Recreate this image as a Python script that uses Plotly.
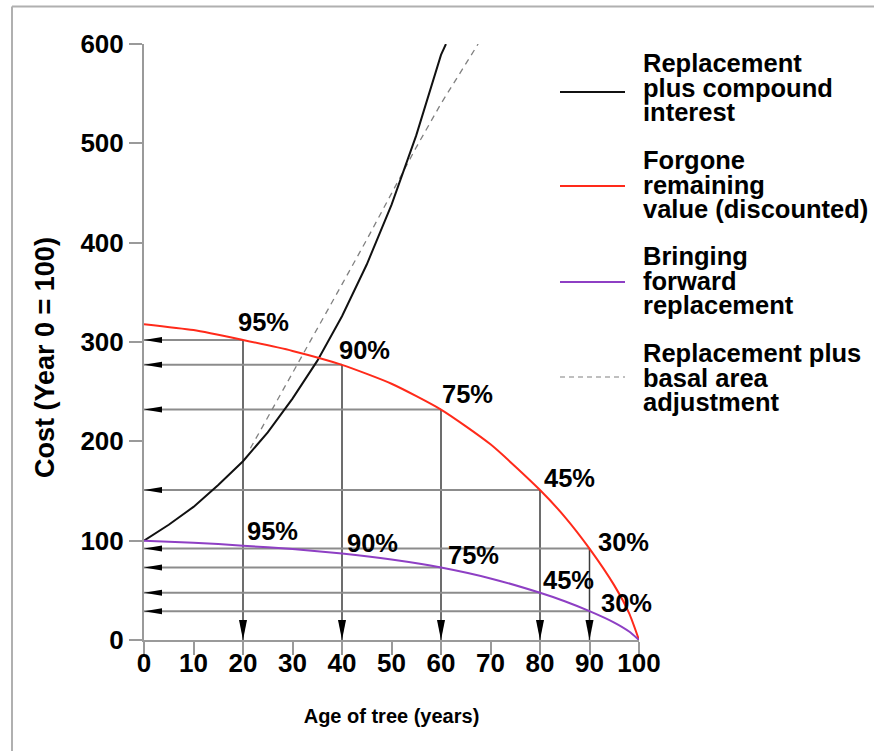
import plotly.graph_objects as go

# ---------------- data ----------------
age_black = [0, 5, 10, 15, 20, 25, 30, 35, 40, 45, 50, 55, 60, 61]
cost_black = [100, 116, 134, 156, 180, 209, 243, 281, 326, 378, 438, 508, 589, 600]

age_curve = [0, 10, 20, 30, 40, 50, 60, 70, 80, 85, 90, 95, 98, 100]
cost_red = [318, 312, 302, 291, 277, 258, 232, 197, 151, 124, 92, 55, 27, 0]
cost_purple = [100, 98, 95, 91.5, 87, 81, 73, 62, 47.5, 39, 29, 17.5, 8.5, 0]

age_dash = [21.5, 25, 30, 35, 40, 45, 50, 55, 60, 65, 67.5]
cost_dash = [193, 224, 268, 313, 358, 403, 449, 496, 540, 580, 600]

marked_age = [20, 40, 60, 80, 90]
red_marked = [302, 277, 232, 151, 92]
red_pct = ["95%", "90%", "75%", "45%", "30%"]
purple_marked = [95, 87, 73, 47.5, 29]
purple_pct = ["95%", "90%", "75%", "45%", "30%"]
purple_guides = [False, False, True, True, True]

x_ticks = [0, 10, 20, 30, 40, 50, 60, 70, 80, 90, 100]
y_ticks = [0, 100, 200, 300, 400, 500, 600]

x_title = "Age of tree (years)"
y_title = "Cost (Year 0 = 100)"
legend_names = [
    ["Replacement", "plus compound", "interest"],
    ["Forgone", "remaining", "value (discounted)"],
    ["Bringing", "forward", "replacement"],
    ["Replacement plus", "basal area", "adjustment"],
]

# ---------------- style ----------------
FONT = "Liberation Sans, Arial, Helvetica, sans-serif"
BLACK = "#111111"
RED = "#ff2a1a"
PURPLE = "#8e3fc4"
DASH = "#808080"
GUIDE_H = "#8c8c8c"
GUIDE_V = "#3c3c3c"
AXIS = "#9a9a9a"
TXT = 25.5
WEIGHT = "bold"

red_dx = [20, 22, 26, 29, 34]
red_dy = [18, 15, 16, 12, 7]
pur_dx = [29, 30, 32, 28, 37]
pur_dy = [15, 11, 12, 13, 8]

W, H = 874, 751
L, R, T, B = 144, 874 - 639, 44, 751 - 640
PW, PH = W - L - R, H - T - B


def px_x(p):
    return (p - L) / PW


def px_y(p):
    return (H - B - p) / PH


def tfont(size=TXT):
    return dict(family=FONT, size=size, color="black", weight=WEIGHT)


fig = go.Figure()

fig.add_trace(go.Scatter(x=age_dash, y=cost_dash, mode="lines", name="Replacement plus basal area adjustment",
                         line=dict(color=DASH, width=1.3, dash="6px,5px"), cliponaxis=False, showlegend=False))
fig.add_trace(go.Scatter(x=age_black, y=cost_black, mode="lines", name="Replacement plus compound interest",
                         line=dict(color=BLACK, width=2), cliponaxis=False, showlegend=False))
fig.add_trace(go.Scatter(x=age_curve, y=cost_red, mode="lines", name="Forgone remaining value (discounted)",
                         line=dict(color=RED, width=2, shape="spline", smoothing=0.6), cliponaxis=False, showlegend=False))
fig.add_trace(go.Scatter(x=age_curve, y=cost_purple, mode="lines", name="Bringing forward replacement",
                         line=dict(color=PURPLE, width=2, shape="spline", smoothing=0.6), cliponaxis=False, showlegend=False))

shapes = []
ux = 100 / PW  # data units per px in x
uy = 600 / PH  # data units per px in y


def hguide(yv, xe):
    shapes.append(dict(type="line", xref="x", yref="y", x0=0, x1=xe, y0=yv, y1=yv,
                       line=dict(color=GUIDE_H, width=2), layer="below"))
    shapes.append(dict(type="path", xref="x", yref="y",
                       path=f"M 0 {yv} L {18*ux} {yv+3*uy} L {18*ux} {yv-3*uy} Z",
                       fillcolor="black", line=dict(width=0)))


for a, rv in zip(marked_age, red_marked):
    hguide(rv, a)
    shapes.append(dict(type="line", xref="x", yref="y", x0=a, x1=a, y0=rv, y1=0,
                       line=dict(color=GUIDE_V, width=1.5), layer="below"))
    shapes.append(dict(type="path", xref="x", yref="y",
                       path=f"M {a} 0 L {a-4*ux} {20*uy} L {a+4*ux} {20*uy} Z",
                       fillcolor="black", line=dict(width=0)))

for a, pv, g in zip(marked_age, purple_marked, purple_guides):
    if g:
        hguide(pv, a)

# legend samples
leg_colors = [BLACK, RED, PURPLE, DASH]
leg_dash = ["solid", "solid", "solid", "5px,4px"]
leg_sample_y = [92, 186, 282, 377]
leg_text_y0 = [63, 160, 256, 353]
for c, d, sy in zip(leg_colors, leg_dash, leg_sample_y):
    shapes.append(dict(type="line", xref="paper", yref="paper", x0=px_x(560), x1=px_x(625),
                       y0=px_y(sy), y1=px_y(sy), line=dict(color=c, width=2 if d == "solid" else 1.2, dash=d)))

# frame
shapes.append(dict(type="line", xref="paper", yref="paper", x0=px_x(12), x1=px_x(12), y0=px_y(6.5), y1=px_y(760),
                   line=dict(color="#b0b0b0", width=2)))
shapes.append(dict(type="line", xref="paper", yref="paper", x0=px_x(12), x1=px_x(880), y0=px_y(6.5), y1=px_y(6.5),
                   line=dict(color="#b0b0b0", width=2)))

annotations = []
for a, rv, t, dx, dy in zip(marked_age, red_marked, red_pct, red_dx, red_dy):
    annotations.append(dict(x=a, y=rv, xref="x", yref="y", text=t, showarrow=False, xshift=dx, yshift=dy,
                            font=tfont(), xanchor="center", yanchor="middle"))
for a, pv, t, dx, dy in zip(marked_age, purple_marked, purple_pct, pur_dx, pur_dy):
    annotations.append(dict(x=a, y=pv, xref="x", yref="y", text=t, showarrow=False, xshift=dx, yshift=dy,
                            font=tfont(), xanchor="center", yanchor="middle"))

for lines, y0 in zip(legend_names, leg_text_y0):
    for i, ln in enumerate(lines):
        annotations.append(dict(x=px_x(641), y=px_y(y0 + 24.5 * i), xref="paper", yref="paper", text=ln,
                                showarrow=False, xanchor="left", yanchor="middle", font=tfont()))

# y-axis title (positioned as in the reference, slightly below plot centre)
annotations.append(dict(x=px_x(45), y=px_y(358), xref="paper", yref="paper", text=y_title, textangle=-90,
                        showarrow=False, xanchor="center", yanchor="middle", font=tfont(27)))

fig.update_layout(
    width=W, height=H,
    margin=dict(l=L, r=R, t=T, b=B),
    paper_bgcolor="white", plot_bgcolor="white",
    shapes=shapes, annotations=annotations,
    font=dict(family=FONT, color="black"),
    showlegend=False,
)
fig.update_xaxes(range=[0, 100], tickvals=x_ticks, showgrid=False, zeroline=False,
                 showline=True, linecolor=AXIS, linewidth=2, ticks="outside", ticklen=13, tickwidth=2,
                 tickcolor=AXIS, tickfont=tfont(26), ticklabelstandoff=-14,
                 title=dict(text=x_title, font=tfont(20), standoff=32))
fig.update_yaxes(range=[0, 600], tickvals=y_ticks, showgrid=False, zeroline=False,
                 showline=True, linecolor=AXIS, linewidth=2, ticks="outside", ticklen=13, tickwidth=2,
                 tickcolor=AXIS, tickfont=tfont(26))

fig.write_html("out.html", config={"displayModeBar": False},
               post_script="document.body.style.margin='0';")
